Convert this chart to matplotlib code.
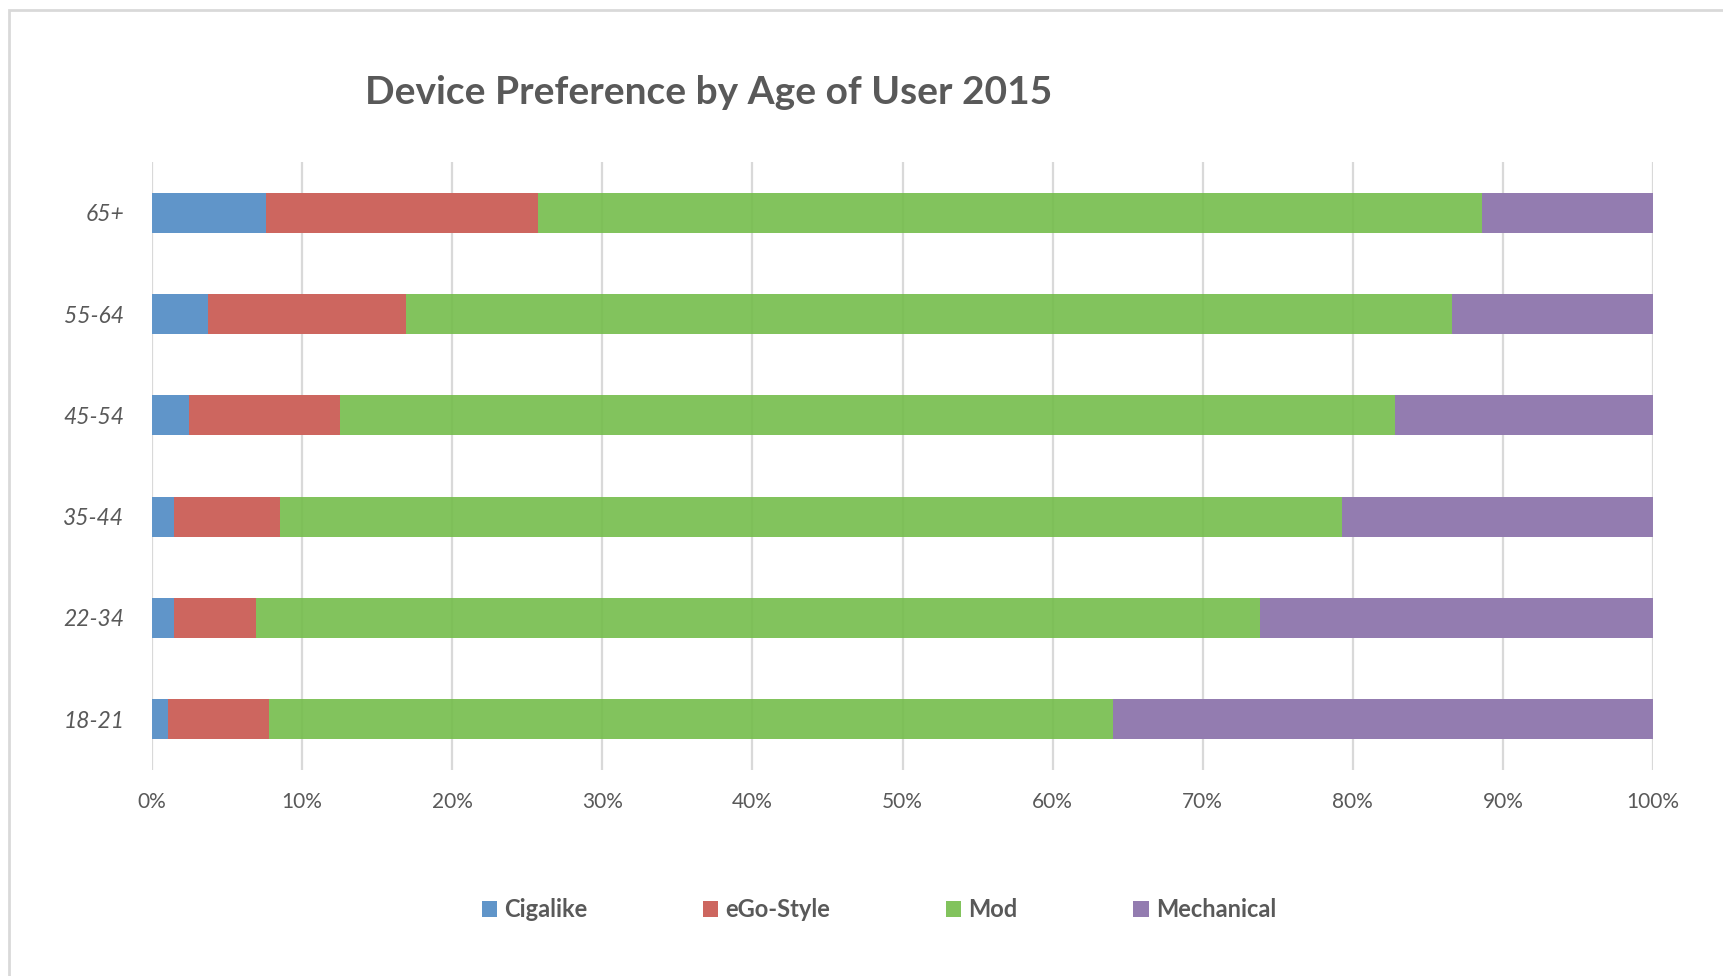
import matplotlib
matplotlib.use("Agg")
import matplotlib.pyplot as plt
import numpy as np
from matplotlib.patches import Rectangle
from matplotlib.ticker import FuncFormatter

plt.rcParams["font.family"] = ["Lato", "DejaVu Sans"]

# Share of each device type per age band (percent, rows add to 100)
age_groups = ["18-21", "22-34", "35-44", "45-54", "55-64", "65+"]
cigalike = [1.1, 1.5, 1.5, 2.5, 3.7, 7.6]
ego_style = [6.7, 5.4, 7.0, 10.0, 13.2, 18.1]
mod = [56.2, 66.9, 70.8, 70.3, 69.7, 62.9]
mechanical = [36.0, 26.2, 20.7, 17.2, 13.4, 11.4]

series_names = ["Cigalike", "eGo-Style", "Mod", "Mechanical"]
series_colors = ["#6095c9", "#cd665f", "#74bd4b", "#937cb0"]
series_alpha = [1.0, 1.0, 0.9, 1.0]
text_grey = "#595959"

fig = plt.figure(figsize=(17.23, 9.76), dpi=100)
ax = fig.add_axes([0.0882, 0.2111, 0.8712, 0.6229])

y = np.arange(len(age_groups))
left = np.zeros(len(age_groups))
for name, vals, col, a in zip(series_names,
                              [cigalike, ego_style, mod, mechanical],
                              series_colors, series_alpha):
    vals = np.asarray(vals, dtype=float)
    ax.barh(y, vals, left=left, height=0.395, color=col, label=name,
            edgecolor="none", alpha=a, zorder=2)
    left += vals

ax.set_xlim(0, 100)
ax.set_ylim(-0.5, len(age_groups) - 0.5)
ax.set_xticks(np.arange(0, 101, 10))
ax.xaxis.set_major_formatter(FuncFormatter(lambda v, _: f"{v:.0f}%"))
ax.set_yticks(y)
ax.set_yticklabels(age_groups, fontstyle="italic")
ax.tick_params(axis="x", length=0, pad=16, labelsize=15, labelcolor=text_grey)
ax.tick_params(axis="y", length=0, pad=20, labelsize=16.5, labelcolor=text_grey)
ax.grid(axis="x", color="#d9d9d9", linewidth=1.6, zorder=1)
ax.set_axisbelow(True)
for s in ax.spines.values():
    s.set_visible(False)

fig.text(0.411, 0.905, "Device Preference by Age of User 2015",
         ha="center", va="center", fontsize=28, fontweight="bold",
         color=text_grey)

leg = fig.legend(loc="center", bbox_to_anchor=(0.510, 0.068), ncol=4,
                 frameon=False, handlelength=0.65,
                 handleheight=0.65, handletextpad=0.3, columnspacing=4.9,
                 prop={"weight": "bold", "size": 17})
for t in leg.get_texts():
    t.set_color(text_grey)

# light frame around the chart area
fig.patches.append(Rectangle((9 / 1723, -0.05), 1.2, 1 - 10 / 976 + 0.05,
                             transform=fig.transFigure, fill=False,
                             edgecolor="#d9d9d9", linewidth=2))

fig.savefig("out.png", dpi=100)
